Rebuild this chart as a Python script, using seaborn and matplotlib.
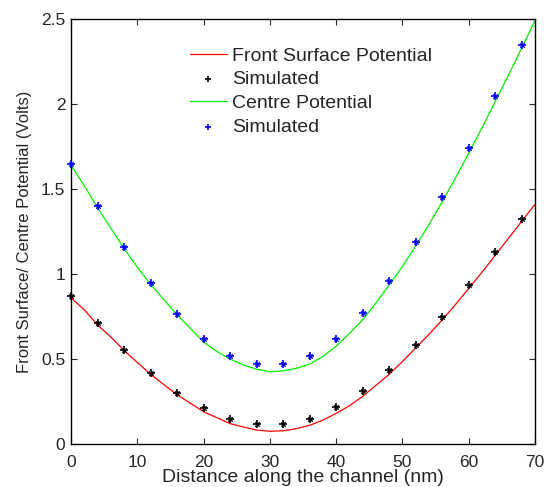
import matplotlib
matplotlib.use("Agg")
import matplotlib.pyplot as plt
import seaborn as sns
import pandas as pd

# Model curves sampled along the channel (nm)
x_model = [0, 2, 4, 6, 8, 10, 12, 14, 16, 18, 20, 22, 24, 26, 28, 30, 32, 34,
           36, 38, 40, 42, 44, 46, 48, 50, 52, 54, 56, 58, 60, 62, 64, 66, 68, 70]
front_surface = [0.86, 0.79, 0.70, 0.63, 0.55, 0.48, 0.41, 0.35, 0.29, 0.24,
                 0.19, 0.155, 0.12, 0.10, 0.082, 0.075, 0.078, 0.09, 0.11, 0.14,
                 0.18, 0.225, 0.28, 0.345, 0.41, 0.485, 0.565, 0.645, 0.73, 0.82,
                 0.915, 1.01, 1.11, 1.21, 1.31, 1.41]
centre = [1.64, 1.52, 1.39, 1.27, 1.15, 1.04, 0.94, 0.85, 0.76, 0.68,
          0.60, 0.545, 0.50, 0.465, 0.44, 0.425, 0.43, 0.445, 0.47, 0.515,
          0.575, 0.65, 0.73, 0.83, 0.935, 1.045, 1.165, 1.29, 1.425, 1.565,
          1.71, 1.86, 2.015, 2.17, 2.33, 2.49]

# Device simulation results
x_sim = [0, 4, 8, 12, 16, 20, 24, 28, 32, 36, 40, 44, 48, 52, 56, 60, 64, 68]
front_sim = [0.87, 0.71, 0.555, 0.42, 0.30, 0.213, 0.145, 0.12, 0.12, 0.15,
             0.215, 0.31, 0.435, 0.58, 0.745, 0.935, 1.13, 1.325]
centre_sim = [1.65, 1.40, 1.16, 0.95, 0.765, 0.62, 0.52, 0.47, 0.47, 0.52,
              0.62, 0.77, 0.96, 1.19, 1.455, 1.74, 2.05, 2.35]

x_ticks = [0, 10, 20, 30, 40, 50, 60, 70]
y_ticks = [0, 0.5, 1, 1.5, 2, 2.5]
y_tick_labels = ["0", "0.5", "1", "1.5", "2", "2.5"]

sns.set_style("ticks")
plt.rcParams["font.family"] = ["Liberation Sans", "DejaVu Sans"]
plt.rcParams["xtick.direction"] = "in"
plt.rcParams["ytick.direction"] = "in"

model = pd.DataFrame({"x": x_model, "front": front_surface, "centre": centre})
sim = pd.DataFrame({"x": x_sim, "front": front_sim, "centre": centre_sim})

W, H = 549, 487
fig = plt.figure(figsize=(W / 100, H / 100), dpi=100)
ax = fig.add_axes([71 / W, (H - 444) / H, 464 / W, 425 / H])

sns.lineplot(data=model, x="x", y="front", ax=ax, color="#ff0000", lw=0.9,
             label="Front Surface Potential", clip_on=False)
sns.scatterplot(data=sim, x="x", y="front", ax=ax, marker="+", color="black",
                s=40, linewidth=1.2, label="Simulated", clip_on=False, zorder=4)
sns.lineplot(data=model, x="x", y="centre", ax=ax, color="#00f000", lw=0.9,
             label="Centre Potential", clip_on=False)
sns.scatterplot(data=sim, x="x", y="centre", ax=ax, marker="+", color="#0000ff",
                s=40, linewidth=1.2, label="Simulated", clip_on=False, zorder=4)
# thicken the marker centres
for col, c in (("front", "black"), ("centre", "#0000ff")):
    sns.scatterplot(data=sim, x="x", y=col, ax=ax, marker="x", color=c,
                    s=10, linewidth=1.0, legend=False, clip_on=False, zorder=4)

ax.set_xlim(0, 70)
ax.set_ylim(0, 2.5)
ax.set_xticks(x_ticks)
ax.set_yticks(y_ticks)
ax.set_yticklabels(y_tick_labels)
ax.tick_params(axis="both", which="both", top=True, right=True, length=4,
               width=0.8, labelsize=12.5)
ax.tick_params(axis="x", pad=8)
ax.tick_params(axis="y", pad=4)
for s in ax.spines.values():
    s.set_linewidth(1.0)
    s.set_color("black")

ax.set_xlabel("Distance along the channel (nm)", fontsize=14)
ax.set_ylabel("Front Surface/ Centre Potential (Volts)", fontsize=12)
ax.xaxis.set_label_coords(0.5, -0.058)
ax.yaxis.set_label_coords(-0.085, 0.5)

leg = ax.legend(loc="upper left", bbox_to_anchor=(190 / W, 1 - 47 / H),
                bbox_transform=fig.transFigure, frameon=False,
                fontsize=14, handlelength=1.9, handletextpad=0.25,
                labelspacing=0.32, borderpad=0, borderaxespad=0)
for h in leg.legend_handles[1::2]:
    h.set_sizes([25])

fig.savefig("out.png", dpi=100)
